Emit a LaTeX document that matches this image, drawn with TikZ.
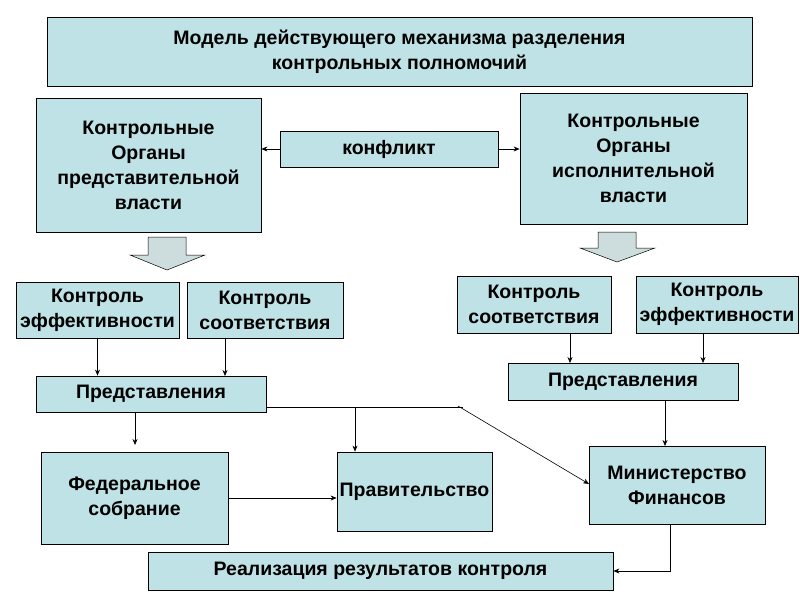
\documentclass[tikz,border=0pt]{standalone}
\usepackage{fontspec}
\setmainfont{Liberation Sans}
\usetikzlibrary{arrows.meta}
\definecolor{boxc}{RGB}{190,226,229}
\begin{document}
\begin{tikzpicture}[x=1pt,y=-1pt,
  bx/.style={draw=black,fill=boxc,line width=0.8pt,align=center,font=\fontsize{19.5}{25}\selectfont\bfseries,inner sep=0pt},
  ar/.style={-{Stealth[length=6pt,width=5pt]},line width=0.6pt},
  ln/.style={line width=0.6pt}]
\useasboundingbox (0,0) rectangle (800,600);
\newcommand{\bxat}[6]{\node[bx,minimum width=#3-#1,minimum height=#4-#2] (#5) at ({(#1+#3)/2},{(#2+#4)/2}) {#6};}
\bxat{47}{17}{752}{86}{title}{Модель действующего механизма разделения\\контрольных полномочий}
\bxat{36}{98}{261}{232}{lbig}{Контрольные\\Органы\\представительной\\власти}
\bxat{280}{131}{498}{167}{konf}{конфликт}
\bxat{520}{93}{747}{224}{rbig}{Контрольные\\Органы\\исполнительной\\власти}
\bxat{16}{282}{179}{338}{le}{Контроль\\эффективности}
\bxat{187}{282}{343}{338}{ls}{Контроль\\соответствия}
\bxat{457}{276}{611}{333}{rs}{Контроль\\соответствия}
\bxat{636}{276}{798}{333}{re}{Контроль\\эффективности}
\bxat{36}{376}{266}{412}{lp}{Представления}
\bxat{508}{363}{738}{400}{rp}{Представления}
\bxat{41}{452}{228}{544}{fs}{Федеральное\\собрание}
\bxat{337}{452}{492}{531}{pr}{Правительство}
\bxat{589}{446}{765}{524}{mf}{Министерство\\Финансов}
\bxat{148}{552}{613}{590}{real}{Реализация результатов контроля}
% block arrows
\draw[fill=boxc!70!gray!60,line width=0.5pt] (148,237)--(186,237)--(186,255)--(205,255)--(167,270)--(130,255)--(148,255)--cycle;
\draw[fill=boxc!70!gray!60,line width=0.5pt] (598,232)--(636,232)--(636,248)--(655,248)--(617,262)--(580,248)--(598,248)--cycle;
% connectors
\draw[ar] (konf.west) -- (lbig.east |- konf.west);
\draw[ar] (konf.east) -- (rbig.west |- konf.east);
\draw[ar] (le.south) -- (le.south |- lp.north);
\draw[ar] (225,338) -- (225,376);
\draw[ar] (570,333) -- (570,363);
\draw[ar] (703,333) -- (703,363);
\draw[ar] (135,412) -- (135,445);
\coordinate (j1) at (355,407);
\coordinate (j2) at (463,407);
\draw[ln] (lp.east |- j1) -- (j2);
\draw[ar] (j1) -- (pr.north -| j1);
\draw[ar] (458,406) -- (589,484);
\draw[ar] (665,400) -- (665,446);
\draw[ar] (fs.east) -- (pr.west |- fs.east);
\coordinate (c1) at (670,571);
\draw[ar] (670,524) -- (c1) -- (real.east |- c1);
\end{tikzpicture}
\end{document}
